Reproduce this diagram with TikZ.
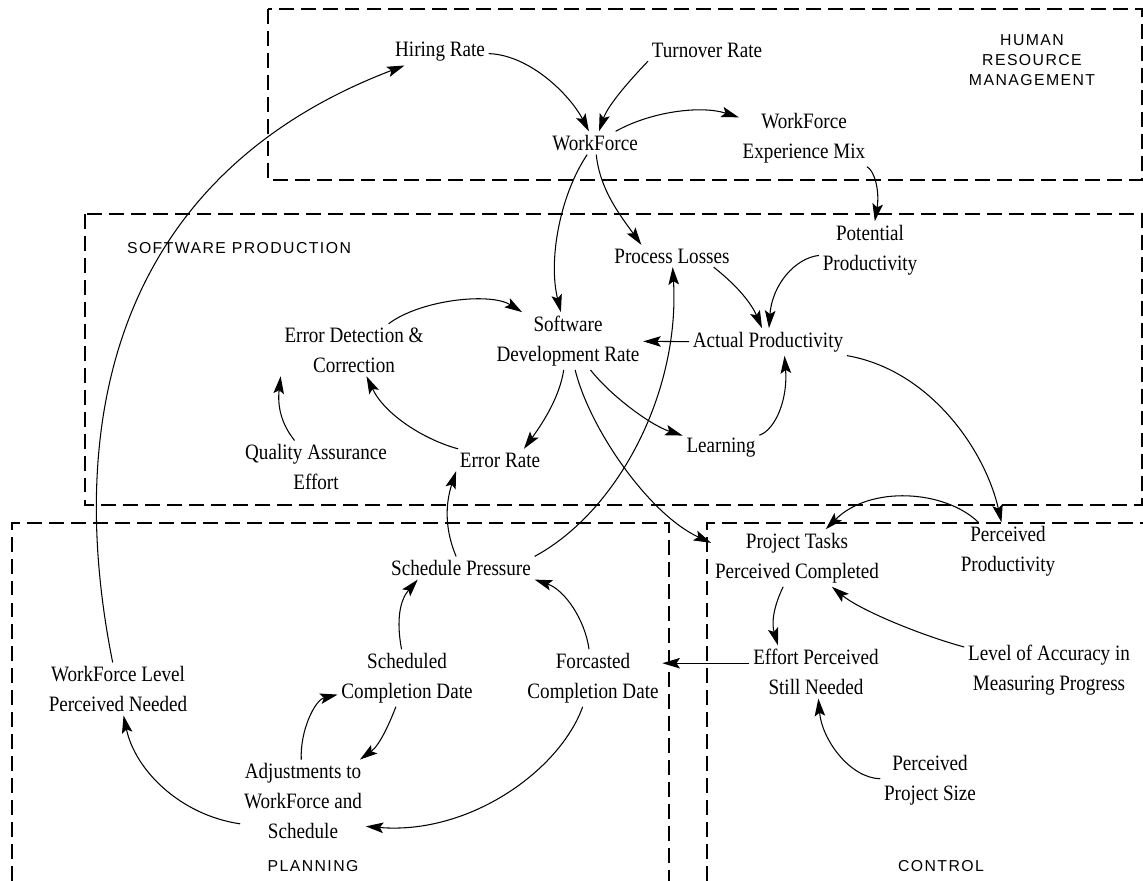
\documentclass[tikz,border=0pt]{standalone}
\usepackage{fontspec}
\usetikzlibrary{arrows.meta}
\newfontfamily\varfont{Liberation Serif}[FakeStretch=0.87]
\newfontfamily\secfont{Liberation Sans}[LetterSpace=9]
\tikzset{
    var/.style={font=\varfont\fontsize{12.5}{17}\selectfont, align=center, inner sep=2pt},
    sector/.style={font=\secfont\fontsize{9}{11.3}\selectfont, align=center, inner sep=0pt},
    sectorbox/.style={line width=1.6pt, dash pattern=on 8.5pt off 4pt},
    link/.style={-{Stealth[length=10pt, width=6pt, inset=2pt]}, line width=0.6pt},
}
\begin{document}
\begin{tikzpicture}[x=0.02cm, y=-0.02cm]
    \useasboundingbox (0,0) rectangle (1143,881);

    \draw[sectorbox] (268,9) rectangle (1142,180);
    \draw[sectorbox] (85,214) rectangle (1142,505);
    \draw[sectorbox] (12,881) |- (669,523) -- (669,881);
    \draw[sectorbox] (707,881) |- (1143,523);

    \node[sector] (hrm) at (1032,60) {HUMAN\\RESOURCE\\MANAGEMENT};
    \node[sector] (swp) at (239,248) {SOFTWARE PRODUCTION};
    \node[sector] (plan) at (313,866) {PLANNING};
    \node[sector] (ctrl) at (941,866) {CONTROL};

    \node[var] (hire) at (440,52) {Hiring Rate};
    \node[var] (turn) at (707,50) {Turnover Rate};
    \node[var] (wf) at (595,143) {WorkForce};
    \node[var] (wfmix) at (804,138) {WorkForce\\Experience Mix};

    \node[var] (ploss) at (672,256) {Process Losses};
    \node[var] (potprod) at (870,250) {Potential\\Productivity};
    \node[var] (devrate) at (568,341) {Software\\Development Rate};
    \node[var] (edc) at (354,350) {Error Detection \&\\Correction};
    \node[var] (actprod) at (768,342) {Actual Productivity};
    \node[var] (qa) at (316,467) {Quality Assurance\\Effort};
    \node[var] (errrate) at (500,460) {Error Rate};
    \node[var] (learn) at (721,448) {Learning};

    \node[var] (schedp) at (461,568) {Schedule Pressure};
    \node[var] (wflpn) at (118,689) {WorkForce Level\\Perceived Needed};
    \node[var] (sccd) at (407,678) {Scheduled\\Completion Date};
    \node[var] (fcd) at (593,678) {Forcasted\\Completion Date};
    \node[var] (adj) at (303,801) {Adjustments to\\WorkForce and\\Schedule};

    \node[var] (ptpc) at (797,558) {Project Tasks\\Perceived Completed};
    \node[var] (percprod) at (1008,551) {Perceived\\Productivity};
    \node[var] (epsn) at (816,672) {Effort Perceived\\Still Needed};
    \node[var] (loa) at (1049,670) {Level of Accuracy in\\Measuring Progress};
    \node[var] (pps) at (930,780) {Perceived\\Project Size};

    \draw[link] (hire) .. controls (530,55) and (570,95) .. (wf);
    \draw[link] (turn.south west) .. controls (630,80) and (608,105) .. (wf);
    \draw[link] (wf) .. controls (650,112) and (700,105) .. (wfmix);
    \draw[link] (wfmix) .. controls (874,170) and (880,190) .. (potprod);
    \draw[link] (wf) .. controls (560,195) and (548,260) .. (devrate);
    \draw[link] (wf) .. controls (600,190) and (620,215) .. (ploss.160);

    \draw[link] (ploss.-15) .. controls (740,288) and (752,305) .. (actprod);
    \draw[link] (potprod) .. controls (795,258) and (772,285) .. (actprod);
    \draw[link] (actprod) -- (devrate);
    \draw[link] (edc) .. controls (420,300) and (490,292) .. (devrate);
    \draw[link] (errrate) .. controls (425,440) and (385,415) .. (edc);
    \draw[link] (qa) .. controls (278,420) and (278,400) .. (edc.south west);
    \draw[link] (devrate) .. controls (560,395) and (545,420) .. (errrate.25);
    \draw[link] (devrate) .. controls (610,395) and (650,425) .. (learn);
    \draw[link] (learn) .. controls (775,430) and (788,400) .. (actprod.-40);
    \draw[link] (devrate) .. controls (590,430) and (650,515) .. (ptpc.170);
    \draw[link] (actprod) .. controls (930,370) and (985,450) .. (percprod);

    \draw[link] (schedp.north east) .. controls (620,510) and (680,390) .. (ploss);
    \draw[link] (schedp) .. controls (445,530) and (445,505) .. (errrate.south west);
    \draw[link] (sccd) .. controls (396,620) and (400,600) .. (schedp.195);
    \draw[link] (fcd) .. controls (585,620) and (565,590) .. (schedp.south east);
    \draw[link] (sccd) .. controls (390,722) and (380,745) .. (adj);
    \draw[link] (adj) .. controls (300,730) and (315,700) .. (sccd);
    \draw[link] (fcd) .. controls (560,770) and (470,835) .. (adj.-22);
    \draw[link] (adj.200) .. controls (180,815) and (135,770) .. (wflpn);
    \draw[link] (wflpn) .. controls (60,400) and (130,170) .. (hire);

    \draw[link] (percprod) .. controls (945,490) and (870,485) .. (ptpc);
    \draw[link] (ptpc) .. controls (772,610) and (772,625) .. (epsn.145);
    \draw[link] (loa) .. controls (920,635) and (860,610) .. (ptpc);
    \draw[link] (pps) .. controls (850,778) and (822,740) .. (epsn);
    \draw[link] ([yshift=5pt]epsn.west) -- ([yshift=5pt]epsn.west -| fcd.east);
\end{tikzpicture}
\end{document}
